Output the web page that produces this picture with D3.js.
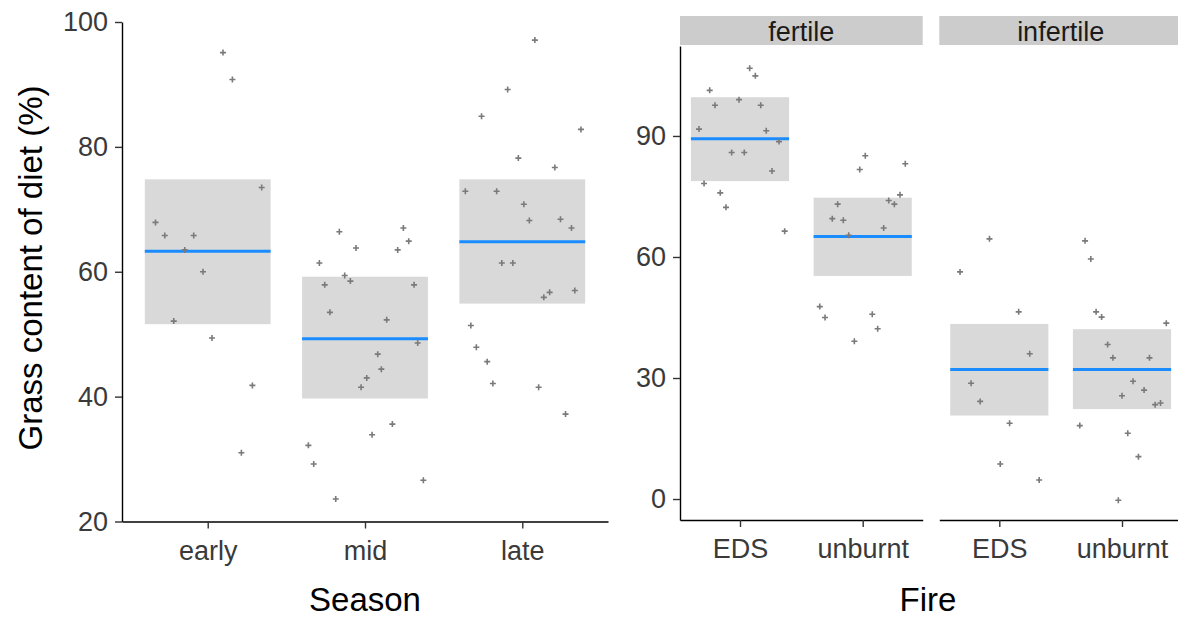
<!DOCTYPE html>
<html>
<head>
<meta charset="utf-8">
<script src="https://cdn.jsdelivr.net/npm/d3@7"></script>
<style>
  body { margin: 0; background: #fff; }
  svg { font-family: "Liberation Sans", Arial, sans-serif; }
</style>
</head>
<body>
<svg id="chart" width="1178" height="619"></svg>
<script>
// season panel
const seasons = ["early", "mid", "late"];
const seasonMean = [63.3, 49.25, 64.8];
const seasonLower = [51.6, 39.7, 54.9];
const seasonUpper = [74.8, 59.2, 74.8];
const seasonTicks = [20, 40, 60, 80, 100];

// [jitter, value]
const earlyPts = [[0.097, 95.1], [0.157, 90.8], [0.343, 73.5], [-0.332, 67.9], [-0.273, 65.8], [-0.089, 65.8],
  [-0.146, 63.5], [-0.03, 60.0], [-0.216, 52.1], [0.027, 49.4], [0.284, 41.8], [0.214, 31.0]];
const midPts = [[-0.163, 66.4], [0.244, 67.0], [0.278, 64.9], [-0.057, 63.8], [0.208, 63.5], [-0.29, 61.4],
  [-0.129, 59.4], [-0.093, 58.5], [-0.256, 57.9], [0.312, 57.9], [-0.223, 53.5], [0.138, 52.3], [0.335, 48.6],
  [0.081, 46.8], [0.104, 44.4], [0.011, 43.0], [-0.025, 41.5], [0.174, 35.6], [0.045, 33.9], [-0.36, 32.2],
  [-0.326, 29.2], [0.371, 26.6], [-0.186, 23.6]];
const latePts = [[0.08, 97.1], [-0.093, 89.2], [-0.259, 84.9], [0.373, 82.8], [-0.025, 78.2], [0.207, 76.7],
  [-0.362, 72.9], [-0.163, 72.9], [0.01, 70.8], [0.045, 68.2], [0.243, 68.4], [0.313, 67.0], [-0.13, 61.4],
  [-0.06, 61.4], [0.334, 57.0], [0.174, 56.7], [0.137, 55.9], [-0.327, 51.4], [-0.292, 47.9], [-0.223, 45.6],
  [-0.187, 42.1], [0.104, 41.5], [0.275, 37.2]];

// fire panels
const fireLevels = ["EDS", "unburnt"];
const fertility = ["fertile", "infertile"];
const fertileMean = [89.3, 65.1];
const fertileLower = [78.8, 55.3];
const fertileUpper = [99.6, 74.7];
const infertileMean = [32.1, 32.1];
const infertileLower = [20.7, 22.3];
const infertileUpper = [43.4, 42.1];
const fireTicks = [0, 30, 60, 90];

const fertileEdsPts = [[0.079, 106.8], [0.125, 104.9], [-0.247, 101.3], [-0.204, 97.6], [-0.008, 99.0],
  [0.169, 97.6], [-0.334, 91.7], [0.214, 91.3], [0.318, 88.6], [-0.068, 85.9], [0.035, 85.9], [0.261, 81.3],
  [-0.293, 78.2], [-0.161, 75.9], [-0.114, 72.3], [0.364, 66.4]];
const fertileUnbPts = [[0.021, 85.1], [0.347, 83.1], [-0.024, 81.7], [0.304, 75.4], [0.212, 74.0], [0.258, 73.1],
  [-0.204, 73.1], [-0.248, 69.5], [-0.158, 69.1], [0.171, 67.2], [-0.114, 65.4], [-0.35, 47.7], [-0.307, 45.0],
  [0.078, 45.8], [0.122, 42.2], [-0.068, 39.1]];
const infertileEdsPts = [[-0.08, 64.5], [-0.32, 56.3], [0.158, 46.4], [0.248, 36.0], [-0.23, 28.7], [-0.156, 24.2],
  [0.084, 18.8], [0.008, 8.7], [0.325, 4.7]];
const infertileUnbPts = [[-0.301, 64.0], [-0.254, 59.5], [-0.211, 46.4], [-0.166, 45.1], [0.361, 43.6],
  [-0.117, 38.3], [-0.074, 35.0], [0.224, 35.0], [0.09, 29.2], [0.18, 27.0], [0.0, 25.6], [0.27, 23.4],
  [0.314, 23.8], [-0.344, 18.2], [0.047, 16.3], [0.134, 10.5], [-0.03, -0.3]];

const svg = d3.select("#chart");
const boxFill = "#d9d9d9";
const meanCol = "#1a8cff";
const ptCol = "#7a7a7a";
const plus = "M-3,0H3M0,-3V3";
const tickFont = 27;
const titleFont = 33;

function drawPanel(g, x, y, cats, mean, lower, upper, pts) {
  const step = x.step();
  const bw = step * 0.8;
  g.selectAll("rect.box")
    .data(cats)
    .join("rect")
    .attr("class", "box")
    .attr("x", (d) => x(d) - bw / 2)
    .attr("width", bw)
    .attr("y", (d, i) => y(upper[i]))
    .attr("height", (d, i) => y(lower[i]) - y(upper[i]))
    .attr("fill", boxFill);

  g.selectAll("line.mean")
    .data(cats)
    .join("line")
    .attr("class", "mean")
    .attr("x1", (d) => x(d) - bw / 2)
    .attr("x2", (d) => x(d) + bw / 2)
    .attr("y1", (d, i) => y(mean[i]))
    .attr("y2", (d, i) => y(mean[i]))
    .attr("stroke", meanCol)
    .attr("stroke-width", 3);

  cats.forEach((c, i) => {
    g.append("g")
      .selectAll("path")
      .data(pts[i])
      .join("path")
      .attr("d", plus)
      .attr("transform", (d) => `translate(${x(c) + d[0] * step},${y(d[1])})`)
      .attr("stroke", ptCol)
      .attr("stroke-width", 1.6)
      .attr("fill", "none");
  });
}

function styleAxis(ax) {
  ax.select(".domain").attr("stroke", "#000").attr("stroke-width", 1.4);
  ax.selectAll(".tick line").attr("stroke", "#333").attr("stroke-width", 1.4);
  ax.selectAll(".tick text")
    .attr("fill", "#3a3a3a")
    .style("font-size", tickFont + "px")
    .style("font-family", "Liberation Sans, Arial, sans-serif");
}

// ---- left: Season ----
const xS = d3.scalePoint().domain(seasons).range([122, 608]).padding(0.545);
const yS = d3.scaleLinear().domain([20, 100]).range([521.5, 22]);

drawPanel(svg.append("g"), xS, yS, seasons, seasonMean, seasonLower, seasonUpper, [earlyPts, midPts, latePts]);

const axSL = svg.append("g")
  .attr("transform", "translate(122,0)")
  .call(d3.axisLeft(yS).tickValues(seasonTicks).tickSize(7).tickSizeOuter(0).tickPadding(7));
styleAxis(axSL);
const axSB = svg.append("g")
  .attr("transform", "translate(0,521.5)")
  .call(d3.axisBottom(xS).tickSize(7).tickSizeOuter(0).tickPadding(12));
styleAxis(axSB);

svg.append("text")
  .attr("transform", "translate(42,268) rotate(-90)")
  .attr("text-anchor", "middle")
  .style("font-size", titleFont + "px")
  .attr("fill", "#000")
  .text("Grass content of diet (%)");

svg.append("text")
  .attr("x", 365)
  .attr("y", 611)
  .attr("text-anchor", "middle")
  .style("font-size", titleFont + "px")
  .attr("fill", "#000")
  .text("Season");

// ---- right: Fire faceted by fertility ----
const yF = d3.scaleLinear().domain([-5.2, 112.3]).range([520, 46]);
const panelX = [[680, 922.7], [939.3, 1182]];
const panelData = [
  [fertileMean, fertileLower, fertileUpper, [fertileEdsPts, fertileUnbPts]],
  [infertileMean, infertileLower, infertileUpper, [infertileEdsPts, infertileUnbPts]]
];

fertility.forEach((f, k) => {
  const [x0, x1] = panelX[k];
  const xF = d3.scalePoint().domain(fireLevels).range([x0, x1]).padding(0.489);
  const g = svg.append("g");

  g.append("rect")
    .attr("x", x0)
    .attr("y", 16)
    .attr("width", x1 - x0)
    .attr("height", 29)
    .attr("fill", "#cccccc");
  g.append("text")
    .attr("x", (x0 + x1) / 2)
    .attr("y", 41)
    .attr("text-anchor", "middle")
    .style("font-size", tickFont + "px")
    .attr("fill", "#1a1a1a")
    .text(f);

  const [m, lo, hi, pts] = panelData[k];
  drawPanel(g, xF, yF, fireLevels, m, lo, hi, pts);

  const axB = g.append("g")
    .attr("transform", "translate(0,520)")
    .call(d3.axisBottom(xF).tickSize(7).tickSizeOuter(0).tickPadding(12));
  styleAxis(axB);

  if (k === 0) {
    const axL = g.append("g")
      .attr("transform", `translate(${x0},0)`)
      .call(d3.axisLeft(yF).tickValues(fireTicks).tickSize(7).tickSizeOuter(0).tickPadding(7));
    styleAxis(axL);
  }
});

svg.append("text")
  .attr("x", 928)
  .attr("y", 611)
  .attr("text-anchor", "middle")
  .style("font-size", titleFont + "px")
  .attr("fill", "#000")
  .text("Fire");
</script>
</body>
</html>
